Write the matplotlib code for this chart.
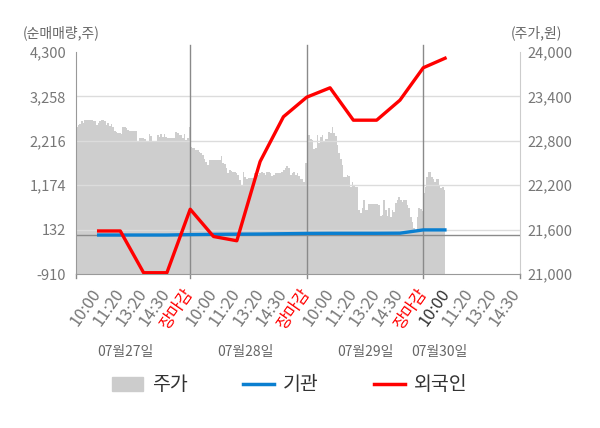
import matplotlib
matplotlib.use("Agg")
import matplotlib.pyplot as plt
import matplotlib.transforms as mtransforms
from matplotlib.lines import Line2D
from matplotlib.patches import Patch
import numpy as np

plt.rcParams['font.family'] = ['Noto Sans CJK KR', 'DejaVu Sans']

# 데이터
tick_labels = ['10:00', '11:20', '13:20', '14:30', '장마감'] * 3 + ['10:00', '11:20', '13:20', '14:30']
date_labels = ['07월27일', '07월28일', '07월29일', '07월30일']

left_ticks = [-910, 132, 1174, 2216, 3258, 4300]
right_ticks = [21000, 21600, 22200, 22800, 23400, 24000]

# 기관 / 외국인 순매매량 (주)
inst = [5, 5, 5, 5, 15, 20, 25, 28, 35, 42, 45, 45, 45, 48, 125, 125]
foreign = [100, 100, -880, -880, 610, -30, -130, 1730, 2780, 3240, 3460, 2700, 2700, 3170, 3930, 4170]

# 주가 (원), 일자별
price_day1 = [22990, 23010, 23030, 23070, 23040, 23080, 23080, 23080, 23080, 23080,
              23070, 23070, 23010, 23040, 23070, 23080, 23080, 23070, 23010, 23040,
              23000, 23030, 22990, 22930, 22920, 22910, 22910, 22890, 22990, 22990,
              22970, 22950, 22930, 22930, 22930, 22930, 22930, 22790, 22840, 22840,
              22840, 22820, 22790, 22790, 22890, 22860, 22790, 22790, 22790, 22880,
              22850, 22890, 22850, 22890, 22850, 22840, 22840, 22840, 22840, 22840,
              22920, 22900, 22880, 22880, 22840, 22890, 22810, 22840, 22990]
price_day2 = [22720, 22700, 22700, 22675, 22675, 22650, 22630, 22610, 22560, 22520,
              22470, 22540, 22540, 22540, 22540, 22540, 22540, 22540, 22590, 22500,
              22490, 22430, 22360, 22410, 22390, 22380, 22380, 22370, 22340, 22270,
              22200, 22380, 22310, 22290, 22300, 22300, 22300, 22300, 22360, 22370,
              22340, 22360, 22380, 22360, 22340, 22380, 22380, 22360, 22320, 22340,
              22360, 22360, 22360, 22360, 22380, 22400, 22430, 22460, 22430, 22340,
              22370, 22380, 22340, 22360, 22320, 22280, 22290, 22250, 22500]
price_day3 = [22675, 22880, 22830, 22810, 22685, 22700, 22880, 22770, 22855, 22880,
              22790, 22830, 22830, 22920, 22900, 22980, 22900, 22865, 22745, 22630,
              22560, 22470, 22315, 22305, 22340, 22325, 22180, 22250, 22200, 22180,
              22180, 21865, 21820, 21890, 22000, 21865, 21865, 21945, 21945, 21945,
              21945, 21945, 21945, 21930, 21785, 21800, 22000, 21865, 21785, 21890,
              21775, 21865, 21840, 21955, 22000, 22035, 22000, 21975, 22000, 22000,
              21930, 21890, 21775, 21705, 21615, 21595, 21775, 21890, 21875, 21855]
price_day4 = [22090, 22180, 22315, 22380, 22380, 22315, 22290, 22250, 22290, 22290,
              22200, 22160, 22180, 22135]

# 레이아웃 (x축 단위 = 라벨 인덱스)
x_min, x_max = -0.9, 18.15
day_spans = [(-0.9, 4), (4, 9), (9, 14), (14, 14.94)]
close_pos = [4, 9, 14]
date_pos = [1.2, 6.35, 11.5, 14.7]

GRAY_TXT = '#777777'
BLUE = '#0a7fd0'
RED = '#ff0000'

fig = plt.figure(figsize=(6, 4.28), dpi=100)
ax = fig.add_axes([76 / 600, 154 / 428, 444 / 600, 222 / 428])
ax2 = ax.twinx()
ax.set_zorder(ax2.get_zorder() + 1)
ax.patch.set_visible(False)
ax2.set_facecolor('#f4f4f4')

# 주가 영역
px, py = [], []
for (s, e), vals in zip(day_spans, [price_day1, price_day2, price_day3, price_day4]):
    px.extend(np.linspace(s, e, len(vals), endpoint=False))
    py.extend(vals)
px.append(day_spans[-1][1])
py.append(py[-1])
ax2.fill_between(px, py, right_ticks[0], step='post', color='#cecece', lw=0)
ax2.set_ylim(right_ticks[0], right_ticks[-1])
ax2.set_yticks(right_ticks)
ax2.set_yticklabels([f'{v:,}' for v in right_ticks])
ax2.tick_params(axis='y', length=0, pad=5, labelsize=10.5, labelcolor=GRAY_TXT)

# 격자선
for v in left_ticks[1:-1]:
    ax.axhline(v, color='#dcdcdc', lw=1, zorder=1)
ax.axhline(0, color='#8a8a8a', lw=1, zorder=2)

# 일자 구분선
trans = mtransforms.blended_transform_factory(ax.transData, ax.transAxes)
for b in close_pos:
    ax.plot([b, b], [-0.02, 1.032], color='#8a8a8a', lw=1, transform=trans, clip_on=False, zorder=2)
for b in [x_min, x_max]:
    ax.plot([b, b], [-0.02, 0], color='#8a8a8a', lw=1, transform=trans, clip_on=False, zorder=2)

# 순매매량 선
ax.plot(range(len(inst)), inst, color=BLUE, lw=2.4, zorder=4, solid_capstyle='butt')
ax.plot(range(len(foreign)), foreign, color=RED, lw=2.4, zorder=5, solid_capstyle='butt')

ax.set_xlim(x_min, x_max)
ax.set_ylim(left_ticks[0], left_ticks[-1])
ax.set_yticks(left_ticks)
ax.set_yticklabels([f'{v:,}' for v in left_ticks])
ax.tick_params(axis='y', length=0, pad=7, labelsize=10.5, labelcolor=GRAY_TXT)

ax.set_xticks(range(len(tick_labels)))
ax.set_xticklabels(tick_labels, rotation=55, ha='right', va='center',
                   rotation_mode='anchor', fontsize=11.8, color=GRAY_TXT)
ax.tick_params(axis='x', length=0, pad=12)
for i, lab in enumerate(ax.get_xticklabels()):
    if tick_labels[i] == '장마감':
        lab.set_color(RED)
    elif i == len(inst) - 1:
        lab.set_color('#333333')

for sp in ['top', 'right']:
    ax.spines[sp].set_visible(False)
for sp in ['top', 'left', 'bottom']:
    ax2.spines[sp].set_visible(False)
ax.spines['left'].set_color('#999999')
ax.spines['bottom'].set_color('#999999')
ax2.spines['right'].set_color('#cccccc')

for pos, lab in zip(date_pos, date_labels):
    ax.text(pos, -0.351, lab, transform=trans, ha='center', va='center',
            fontsize=10, color='#666666')

fig.text(23 / 600, 1 - 33 / 428, '(순매매량,주)', ha='left', va='center', fontsize=10, color='#666666')
fig.text(536 / 600, 1 - 33 / 428, '(주가,원)', ha='center', va='center', fontsize=10, color='#666666')

handles = [Patch(color='#cccccc', label='주가'),
           Line2D([], [], color=BLUE, lw=2.5, label='기관'),
           Line2D([], [], color=RED, lw=2.5, label='외국인')]
fig.legend(handles=handles, loc='center', bbox_to_anchor=(0.4825, 1 - 385 / 428), ncol=3,
           frameon=False, fontsize=14, handlelength=1.6, handleheight=0.72,
           handletextpad=0.45, columnspacing=2.85, labelcolor='#333333')

fig.savefig('out.png', dpi=100)
